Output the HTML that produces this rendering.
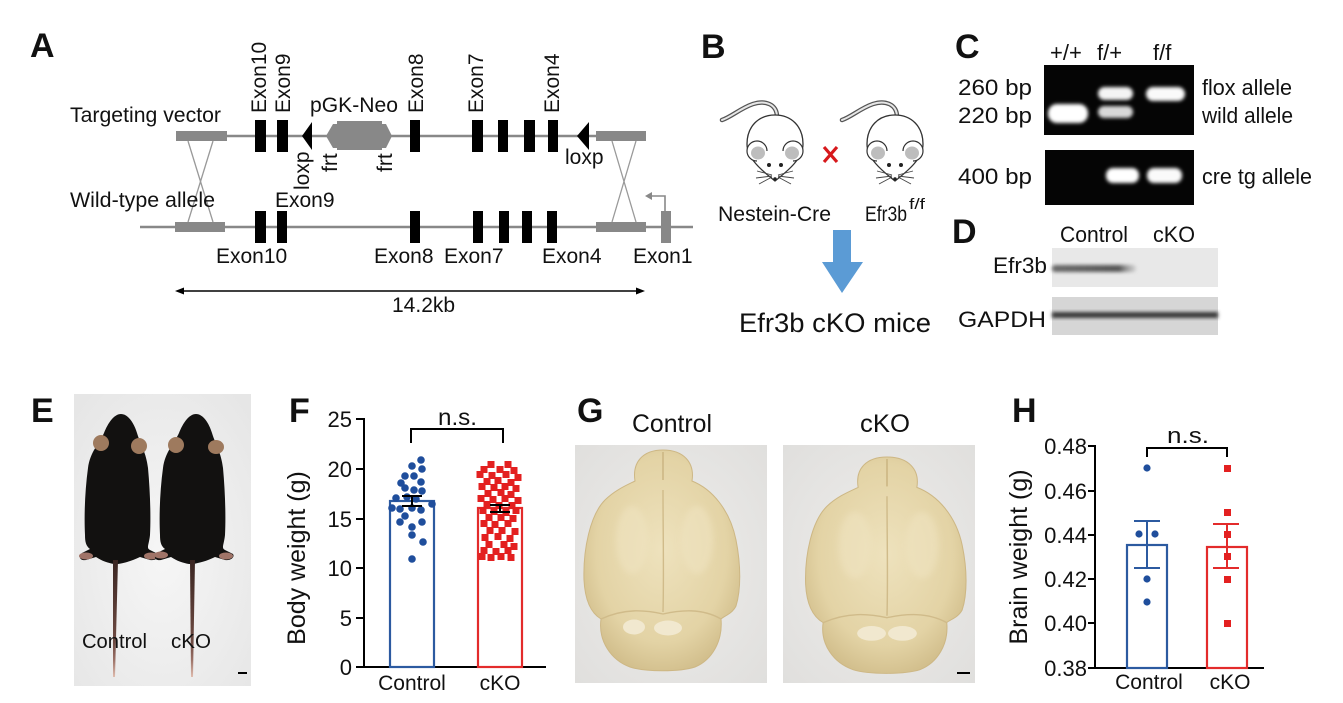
<!DOCTYPE html>
<html><head><meta charset="utf-8"><style>
html,body{margin:0;padding:0;background:#fff;}
svg{display:block;}
text{font-family:"Liberation Sans",Arial,sans-serif;fill:#111;}
.b{font-weight:bold;}
</style></head><body>
<svg width="1343" height="703" viewBox="0 0 1343 703" xmlns="http://www.w3.org/2000/svg">
<defs>
<filter id="blur" x="-30%" y="-50%" width="160%" height="200%"><feGaussianBlur stdDeviation="1.8"/></filter>
<filter id="blur2" x="-30%" y="-30%" width="160%" height="160%"><feGaussianBlur stdDeviation="3"/></filter>
<radialGradient id="photoE" cx="50%" cy="55%" r="70%"><stop offset="0" stop-color="#f6f6f6"/><stop offset="1" stop-color="#e6e6e6"/></radialGradient>
<radialGradient id="photoG" cx="50%" cy="50%" r="70%"><stop offset="0" stop-color="#eeedeb"/><stop offset="1" stop-color="#e0dfdd"/></radialGradient>
<radialGradient id="brainF" cx="50%" cy="45%" r="60%"><stop offset="0" stop-color="#eee2bd"/><stop offset="0.7" stop-color="#e3d3a5"/><stop offset="1" stop-color="#cfbb88"/></radialGradient>
<linearGradient id="tail" x1="0" y1="0" x2="0" y2="1"><stop offset="0" stop-color="#3a2622"/><stop offset="0.7" stop-color="#6e4a42"/><stop offset="0.85" stop-color="#9a7066"/><stop offset="1" stop-color="#e0bcae"/></linearGradient>
<linearGradient id="efrband" x1="0" y1="0" x2="1" y2="0"><stop offset="0" stop-color="#6a6a6a"/><stop offset="0.8" stop-color="#555"/><stop offset="1" stop-color="#9a9a9a" stop-opacity="0.3"/></linearGradient>
</defs>

<!-- ================= Panel A ================= -->
<text class="b" x="30" y="57" font-size="34">A</text>
<text x="70" y="122" font-size="21" textLength="151" lengthAdjust="spacingAndGlyphs">Targeting vector</text>
<line x1="176" y1="136" x2="646" y2="136" stroke="#888" stroke-width="2.5"/>
<rect x="176" y="131" width="51" height="10" fill="#888"/>
<rect x="596" y="131" width="50" height="10" fill="#888"/>
<g fill="#000">
<rect x="255" y="120" width="11" height="32"/>
<rect x="277" y="120" width="11" height="32"/>
<rect x="410" y="120" width="10" height="32"/>
<rect x="472" y="120" width="11" height="32"/>
<rect x="498" y="120" width="10" height="32"/>
<rect x="524" y="120" width="11" height="32"/>
<rect x="548" y="120" width="10" height="32"/>
<polygon points="302,136 312,122 312,150"/>
<polygon points="577,136 589,122 589,150"/>
</g>
<polygon points="326,136 333,124 337,124 337,148 333,148" fill="#888"/>
<rect x="337" y="121" width="45" height="29" fill="#888"/>
<polygon points="392,136 386,124 382,124 382,148 386,148" fill="#888"/>
<text x="310" y="112" font-size="21" textLength="88" lengthAdjust="spacingAndGlyphs">pGK-Neo</text>
<g font-size="21">
<text transform="translate(266,113) rotate(-90)">Exon10</text>
<text transform="translate(290,113) rotate(-90)">Exon9</text>
<text transform="translate(423,113) rotate(-90)">Exon8</text>
<text transform="translate(483,113) rotate(-90)">Exon7</text>
<text transform="translate(559,113) rotate(-90)">Exon4</text>
<text transform="translate(309,190) rotate(-90)">loxp</text>
<text transform="translate(337,172) rotate(-90)">frt</text>
<text transform="translate(392,172) rotate(-90)">frt</text>
<text x="565" y="164">loxp</text>
</g>
<g stroke="#999" stroke-width="1.3">
<line x1="188" y1="141" x2="213" y2="222"/><line x1="213" y1="141" x2="188" y2="222"/>
<line x1="612" y1="141" x2="636" y2="222"/><line x1="636" y1="141" x2="612" y2="222"/>
</g>
<text x="70" y="207" font-size="21" textLength="145" lengthAdjust="spacingAndGlyphs">Wild-type allele</text>
<text x="275" y="207" font-size="21">Exon9</text>
<line x1="140" y1="227" x2="693" y2="227" stroke="#888" stroke-width="2.5"/>
<rect x="175" y="222" width="50" height="10" fill="#888"/>
<rect x="596" y="222" width="50" height="10" fill="#888"/>
<g fill="#000">
<rect x="255" y="211" width="11" height="32"/>
<rect x="277" y="211" width="10" height="32"/>
<rect x="410" y="211" width="10" height="32"/>
<rect x="473" y="211" width="10" height="32"/>
<rect x="499" y="211" width="10" height="32"/>
<rect x="522" y="211" width="10" height="32"/>
<rect x="547" y="211" width="10" height="32"/>
</g>
<rect x="661" y="211" width="10" height="32" fill="#888"/>
<polyline points="665,211 665,196 651,196" fill="none" stroke="#888" stroke-width="1.6"/>
<polygon points="645,196 652,192 652,200" fill="#888"/>
<g font-size="21">
<text x="216" y="263">Exon10</text>
<text x="374" y="263">Exon8</text>
<text x="444" y="263">Exon7</text>
<text x="542" y="263">Exon4</text>
<text x="633" y="263">Exon1</text>
</g>
<line x1="180" y1="291" x2="640" y2="291" stroke="#000" stroke-width="1.6"/>
<polygon points="175,291 184,287.5 184,294.5" fill="#000"/>
<polygon points="645,291 636,287.5 636,294.5" fill="#000"/>
<text x="392" y="312" font-size="21">14.2kb</text>

<!-- ================= Panel B ================= -->
<text class="b" x="701" y="58" font-size="34">B</text>
<g transform="translate(775,148)">
<path d="M2,-31 C2,-44 -10,-48 -22,-44 C-34,-40 -44,-31 -53,-28" fill="none" stroke="#555" stroke-width="4.5" stroke-linecap="round"/>
<path d="M2,-31 C2,-44 -10,-48 -22,-44 C-34,-40 -44,-31 -53,-28" fill="none" stroke="#e6e6e6" stroke-width="2" stroke-linecap="round"/>
<path d="M0,-33 C17,-33 28,-21 28,-4 C28,10 14,22 0,33 C-14,22 -28,10 -28,-4 C-28,-21 -17,-33 0,-33 Z" fill="#fff" stroke="#333" stroke-width="1.3"/>
<path d="M-8,3 A10,10 0 1 0 -18,13" fill="#fff" stroke="#333" stroke-width="1.2"/>
<ellipse cx="-17" cy="5" rx="7" ry="6.5" fill="#bdbdbd"/>
<path d="M8,3 A10,10 0 1 1 18,13" fill="#fff" stroke="#333" stroke-width="1.2"/>
<ellipse cx="17" cy="5" rx="7" ry="6.5" fill="#bdbdbd"/>
<circle cx="-6" cy="17" r="2" fill="#222"/><circle cx="6" cy="17" r="2" fill="#222"/>
<circle cx="0" cy="31" r="1.8" fill="#222"/>
<g stroke="#444" stroke-width="0.9" fill="none">
<path d="M-3,27 L-18,23 M-3,28 L-19,30 M-3,29 L-16,36 M3,27 L18,23 M3,28 L19,30 M3,29 L16,36"/>
</g>
</g>
<g transform="translate(895,148)">
<path d="M2,-31 C2,-44 -10,-48 -22,-44 C-34,-40 -44,-31 -53,-28" fill="none" stroke="#555" stroke-width="4.5" stroke-linecap="round"/>
<path d="M2,-31 C2,-44 -10,-48 -22,-44 C-34,-40 -44,-31 -53,-28" fill="none" stroke="#e6e6e6" stroke-width="2" stroke-linecap="round"/>
<path d="M0,-33 C17,-33 28,-21 28,-4 C28,10 14,22 0,33 C-14,22 -28,10 -28,-4 C-28,-21 -17,-33 0,-33 Z" fill="#fff" stroke="#333" stroke-width="1.3"/>
<path d="M-8,3 A10,10 0 1 0 -18,13" fill="#fff" stroke="#333" stroke-width="1.2"/>
<ellipse cx="-17" cy="5" rx="7" ry="6.5" fill="#bdbdbd"/>
<path d="M8,3 A10,10 0 1 1 18,13" fill="#fff" stroke="#333" stroke-width="1.2"/>
<ellipse cx="17" cy="5" rx="7" ry="6.5" fill="#bdbdbd"/>
<circle cx="-6" cy="17" r="2" fill="#222"/><circle cx="6" cy="17" r="2" fill="#222"/>
<circle cx="0" cy="31" r="1.8" fill="#222"/>
<g stroke="#444" stroke-width="0.9" fill="none">
<path d="M-3,27 L-18,23 M-3,28 L-19,30 M-3,29 L-16,36 M3,27 L18,23 M3,28 L19,30 M3,29 L16,36"/>
</g>
</g>
<g stroke="#d7191c" stroke-width="3.2" stroke-linecap="butt">
<line x1="824" y1="147" x2="837" y2="162"/><line x1="837" y1="147" x2="824" y2="162"/>
</g>
<text x="718" y="221" font-size="21" textLength="113" lengthAdjust="spacingAndGlyphs">Nestein-Cre</text>
<text x="865" y="221" font-size="21" textLength="42" lengthAdjust="spacingAndGlyphs">Efr3b</text>
<text x="909" y="209" font-size="15" textLength="16" lengthAdjust="spacingAndGlyphs">f/f</text>
<polygon points="833,230 851,230 851,262 863,262 842,293 822,262 833,262" fill="#5b9bd5"/>
<text x="739" y="332" font-size="27" textLength="192" lengthAdjust="spacingAndGlyphs">Efr3b cKO mice</text>

<!-- ================= Panel C ================= -->
<text class="b" x="955" y="58" font-size="34">C</text>
<g font-size="22">
<text x="1050" y="60">+/+</text>
<text x="1097" y="60">f/+</text>
<text x="1153" y="60">f/f</text>
</g>
<rect x="1044" y="65" width="150" height="70" fill="#050505"/>
<g filter="url(#blur)">
<rect x="1048" y="104" width="40" height="19" rx="9" fill="#fff"/>
<rect x="1098" y="87" width="35" height="13" rx="6.5" fill="#f4f4f4"/>
<rect x="1098" y="106" width="35" height="12" rx="6" fill="#d8d8d8"/>
<rect x="1146" y="87" width="39" height="14" rx="7" fill="#fafafa"/>
</g>
<rect x="1045" y="150" width="149" height="55" fill="#050505"/>
<g filter="url(#blur)">
<rect x="1106" y="168" width="33" height="15" rx="7" fill="#fff"/>
<rect x="1147" y="168" width="35" height="15" rx="7" fill="#fafafa"/>
</g>
<g font-size="22">
<text x="958" y="95" textLength="74" lengthAdjust="spacingAndGlyphs">260 bp</text>
<text x="958" y="123" textLength="74" lengthAdjust="spacingAndGlyphs">220 bp</text>
<text x="958" y="184" textLength="74" lengthAdjust="spacingAndGlyphs">400 bp</text>
<text x="1202" y="95" textLength="90" lengthAdjust="spacingAndGlyphs">flox allele</text>
<text x="1202" y="123" textLength="91" lengthAdjust="spacingAndGlyphs">wild allele</text>
<text x="1202" y="184" textLength="110" lengthAdjust="spacingAndGlyphs">cre tg allele</text>
</g>

<!-- ================= Panel D ================= -->
<text class="b" x="952" y="243" font-size="34">D</text>
<text x="1060" y="242" font-size="22" textLength="68" lengthAdjust="spacingAndGlyphs">Control</text>
<text x="1153" y="242" font-size="22" textLength="42" lengthAdjust="spacingAndGlyphs">cKO</text>
<rect x="1052" y="248" width="166" height="39" fill="#e8e8e8"/>
<rect x="1052" y="265" width="84" height="7" rx="3" fill="url(#efrband)" filter="url(#blur)"/>
<rect x="1052" y="297" width="166" height="38" fill="#d6d6d6"/>
<rect x="1052" y="312" width="166" height="6" fill="#3a3a3a" filter="url(#blur)"/>
<text x="993" y="273" font-size="22" textLength="54" lengthAdjust="spacingAndGlyphs">Efr3b</text>
<text x="958" y="327" font-size="22" textLength="88" lengthAdjust="spacingAndGlyphs">GAPDH</text>

<!-- ================= Panel E ================= -->
<text class="b" x="31" y="422" font-size="34">E</text>
<rect x="74" y="394" width="177" height="292" fill="url(#photoE)"/>
<g>
<path d="M121,414 C128,414 134,423 137,433 C141,446 146,452 148,468 C150,490 151,515 150,535 C149,545 146,548 150,550 L158,554 C160,557 156,561 150,560 L140,557 C132,561 124,563 118,564 L114,564 C108,563 102,561 96,557 L86,560 C80,561 78,557 82,553 L90,549 C86,546 85,542 85,535 C84,515 85,490 88,468 C90,452 99,444 104,433 C108,423 114,414 121,414 Z" fill="#121110"/>
<ellipse cx="101" cy="443" rx="8" ry="8" fill="#9e7a5e"/>
<ellipse cx="139" cy="446" rx="8" ry="8" fill="#9e7a5e"/>
<ellipse cx="86" cy="556" rx="7" ry="3.5" fill="#a07468"/>
<ellipse cx="151" cy="556" rx="7" ry="3.5" fill="#a07468"/>
<path d="M113,560 L118,560 L115,677 L113,677 Z" fill="url(#tail)"/>
</g>
<g transform="translate(75,0)">
<path d="M121,414 C128,414 134,423 137,433 C141,446 146,452 148,468 C150,490 151,515 150,535 C149,545 146,548 150,550 L158,554 C160,557 156,561 150,560 L140,557 C132,561 124,563 118,564 L114,564 C108,563 102,561 96,557 L86,560 C80,561 78,557 82,553 L90,549 C86,546 85,542 85,535 C84,515 85,490 88,468 C90,452 99,444 104,433 C108,423 114,414 121,414 Z" fill="#121110"/>
<ellipse cx="101" cy="445" rx="8" ry="8" fill="#9e7a5e"/>
<ellipse cx="141" cy="447" rx="8" ry="7" fill="#9e7a5e"/>
<ellipse cx="86" cy="555" rx="7" ry="3.5" fill="#a07468"/>
<ellipse cx="151" cy="556" rx="7" ry="3.5" fill="#a07468"/>
<path d="M115,560 L120,560 L118,677 L116,677 Z" fill="url(#tail)"/>
</g>
<text x="82" y="648" font-size="20" textLength="65" lengthAdjust="spacingAndGlyphs">Control</text>
<text x="171" y="648" font-size="20" textLength="40" lengthAdjust="spacingAndGlyphs">cKO</text>
<line x1="238" y1="673" x2="247" y2="673" stroke="#000" stroke-width="2"/>

<!-- ================= Panel F ================= -->
<text class="b" x="289" y="422" font-size="34">F</text>
<g stroke="#000" stroke-width="2" fill="none">
<line x1="364" y1="418" x2="364" y2="668"/>
<line x1="363" y1="667" x2="546" y2="667"/>
<line x1="356" y1="419" x2="364" y2="419"/>
<line x1="356" y1="469" x2="364" y2="469"/>
<line x1="356" y1="519" x2="364" y2="519"/>
<line x1="356" y1="568" x2="364" y2="568"/>
<line x1="356" y1="618" x2="364" y2="618"/>
<line x1="356" y1="667" x2="364" y2="667"/>
</g>
<g font-size="22" text-anchor="end">
<text x="352" y="427">25</text>
<text x="352" y="477">20</text>
<text x="352" y="527">15</text>
<text x="352" y="576">10</text>
<text x="352" y="626">5</text>
<text x="352" y="675">0</text>
</g>
<text transform="translate(305,558) rotate(-90)" font-size="25" text-anchor="middle">Body weight (g)</text>
<rect x="390" y="501" width="44" height="166" fill="none" stroke="#2c5aa0" stroke-width="2.2"/>
<rect x="478" y="508" width="44" height="159" fill="none" stroke="#e32b2b" stroke-width="2.2"/>
<g fill="#1f4e9c">
<circle cx="421" cy="460" r="3.8"/><circle cx="412" cy="466" r="3.8"/><circle cx="422" cy="469" r="3.8"/>
<circle cx="405" cy="476" r="3.8"/><circle cx="414" cy="476" r="3.8"/><circle cx="401" cy="483" r="3.8"/>
<circle cx="421" cy="482" r="3.8"/><circle cx="405" cy="488" r="3.8"/><circle cx="414" cy="490" r="3.8"/>
<circle cx="422" cy="491" r="3.8"/><circle cx="396" cy="498" r="3.8"/><circle cx="407" cy="497" r="3.8"/>
<circle cx="416" cy="499" r="3.8"/><circle cx="432" cy="504" r="3.8"/><circle cx="392" cy="508" r="3.8"/>
<circle cx="400" cy="509" r="3.8"/><circle cx="412" cy="508" r="3.8"/><circle cx="421" cy="510" r="3.8"/>
<circle cx="405" cy="516" r="3.8"/><circle cx="400" cy="522" r="3.8"/><circle cx="422" cy="522" r="3.8"/>
<circle cx="412" cy="527" r="3.8"/><circle cx="412" cy="535" r="3.8"/><circle cx="423" cy="542" r="3.8"/>
<circle cx="412" cy="559" r="3.8"/>
</g>
<g fill="#e32020">
<rect x="487.5" y="461" width="7" height="7"/><rect x="504.5" y="461" width="7" height="7"/>
<rect x="480.5" y="466" width="7" height="7"/><rect x="496.5" y="466" width="7" height="7"/><rect x="510.5" y="467" width="7" height="7"/>
<rect x="476.5" y="471" width="7" height="7"/><rect x="488.5" y="472" width="7" height="7"/><rect x="502.5" y="471" width="7" height="7"/><rect x="514.5" y="474" width="7" height="7"/>
<rect x="483.5" y="478" width="7" height="7"/><rect x="494.5" y="477" width="7" height="7"/><rect x="507.5" y="479" width="7" height="7"/>
<rect x="478.5" y="483" width="7" height="7"/><rect x="490.5" y="484" width="7" height="7"/><rect x="501.5" y="483" width="7" height="7"/><rect x="512.5" y="485" width="7" height="7"/>
<rect x="484.5" y="490" width="7" height="7"/><rect x="497.5" y="489" width="7" height="7"/><rect x="507.5" y="491" width="7" height="7"/>
<rect x="477.5" y="495" width="7" height="7"/><rect x="489.5" y="496" width="7" height="7"/><rect x="501.5" y="495" width="7" height="7"/><rect x="514.5" y="497" width="7" height="7"/>
<rect x="483.5" y="501" width="7" height="7"/><rect x="495.5" y="502" width="7" height="7"/><rect x="508.5" y="502" width="7" height="7"/>
<rect x="479.5" y="507" width="7" height="7"/><rect x="490.5" y="508" width="7" height="7"/><rect x="502.5" y="509" width="7" height="7"/><rect x="512.5" y="507" width="7" height="7"/>
<rect x="485.5" y="514" width="7" height="7"/><rect x="497.5" y="514" width="7" height="7"/><rect x="509.5" y="515" width="7" height="7"/>
<rect x="480.5" y="520" width="7" height="7"/><rect x="491.5" y="521" width="7" height="7"/><rect x="504.5" y="520" width="7" height="7"/>
<rect x="486.5" y="527" width="7" height="7"/><rect x="498.5" y="527" width="7" height="7"/><rect x="511.5" y="528" width="7" height="7"/>
<rect x="481.5" y="534" width="7" height="7"/><rect x="494.5" y="533" width="7" height="7"/><rect x="506.5" y="535" width="7" height="7"/>
<rect x="485.5" y="541" width="7" height="7"/><rect x="500.5" y="541" width="7" height="7"/><rect x="510.5" y="543" width="7" height="7"/>
<rect x="480.5" y="547" width="7" height="7"/><rect x="492.5" y="548" width="7" height="7"/><rect x="504.5" y="547" width="7" height="7"/>
<rect x="478.5" y="553" width="7" height="7"/><rect x="487.5" y="554" width="7" height="7"/><rect x="497.5" y="553" width="7" height="7"/><rect x="507.5" y="554" width="7" height="7"/>
</g>
<g stroke="#000" stroke-width="2" fill="none">
<line x1="412" y1="496" x2="412" y2="506"/><line x1="402" y1="496" x2="422" y2="496"/><line x1="402" y1="506" x2="422" y2="506"/>
<line x1="500" y1="505" x2="500" y2="512"/><line x1="490" y1="505" x2="510" y2="505"/><line x1="490" y1="512" x2="510" y2="512"/>
<polyline points="411,443 411,429 503,429 503,443"/>
</g>
<text x="438" y="425" font-size="23" textLength="39" lengthAdjust="spacingAndGlyphs">n.s.</text>
<text x="412" y="690" font-size="21" text-anchor="middle">Control</text>
<text x="500" y="690" font-size="21" text-anchor="middle">cKO</text>

<!-- ================= Panel G ================= -->
<text class="b" x="577" y="422" font-size="34">G</text>
<text x="632" y="432" font-size="25" textLength="80" lengthAdjust="spacingAndGlyphs">Control</text>
<text x="860" y="432" font-size="25" textLength="50" lengthAdjust="spacingAndGlyphs">cKO</text>
<rect x="575" y="445" width="192" height="238" fill="url(#photoG)"/>
<rect x="783" y="445" width="192" height="238" fill="url(#photoG)"/>
<g>
<path d="M635,481 C632,462 643,450 663,450 C683,450 695,462 692,481 C712,489 730,510 736,540 C741,565 741,590 736,606 C732,614 724,616 721,619 C723,641 712,660 695,667 C680,672 645,672 630,667 C611,660 598,641 601,619 C591,613 585,600 584,580 C583,550 590,515 605,500 C615,490 627,485 635,481 Z" fill="url(#brainF)" stroke="#cdb784" stroke-width="1"/>
<path d="M663,452 L663,480" stroke="#cbb582" stroke-width="1.5"/>
<path d="M663,490 C663,530 664,575 663,612" stroke="#d0bb8a" stroke-width="1.4" fill="none"/>
<path d="M601,619 C625,608 645,610 663,614 C681,610 702,608 721,619" stroke="#d0bb8a" stroke-width="1.4" fill="none"/>
<ellipse cx="634" cy="627" rx="11" ry="7.5" fill="#f1e8cf"/>
<ellipse cx="668" cy="628" rx="14" ry="7.5" fill="#f1e8cf"/>
<ellipse cx="632" cy="540" rx="16" ry="34" fill="#efe3c0" opacity="0.6" filter="url(#blur2)"/>
<ellipse cx="697" cy="540" rx="16" ry="34" fill="#efe3c0" opacity="0.6" filter="url(#blur2)"/>
</g>
<g transform="translate(887,457) scale(1.03,0.98) translate(-663,-450)">
<path d="M635,481 C632,462 643,450 663,450 C683,450 695,462 692,481 C712,489 730,510 736,540 C741,565 741,590 736,606 C732,614 724,616 721,619 C723,641 712,660 695,667 C680,672 645,672 630,667 C611,660 598,641 601,619 C591,613 585,600 584,580 C583,550 590,515 605,500 C615,490 627,485 635,481 Z" fill="url(#brainF)" stroke="#cdb784" stroke-width="1"/>
<path d="M663,452 L663,480" stroke="#cbb582" stroke-width="1.5"/>
<path d="M663,490 C663,530 664,575 663,612" stroke="#d0bb8a" stroke-width="1.4" fill="none"/>
<path d="M601,619 C625,608 645,610 663,614 C681,610 702,608 721,619" stroke="#d0bb8a" stroke-width="1.4" fill="none"/>
<ellipse cx="648" cy="630" rx="14" ry="7.5" fill="#f1e8cf"/>
<ellipse cx="678" cy="630" rx="14" ry="7.5" fill="#f1e8cf"/>
<ellipse cx="632" cy="540" rx="16" ry="34" fill="#efe3c0" opacity="0.6" filter="url(#blur2)"/>
<ellipse cx="697" cy="540" rx="16" ry="34" fill="#efe3c0" opacity="0.6" filter="url(#blur2)"/>
</g>
<line x1="957" y1="673" x2="970" y2="673" stroke="#000" stroke-width="2"/>

<!-- ================= Panel H ================= -->
<text class="b" x="1012" y="422" font-size="34">H</text>
<g stroke="#000" stroke-width="2" fill="none">
<line x1="1095" y1="445" x2="1095" y2="669"/>
<line x1="1094" y1="668" x2="1264" y2="668"/>
<line x1="1088" y1="446" x2="1095" y2="446"/>
<line x1="1088" y1="491" x2="1095" y2="491"/>
<line x1="1088" y1="535" x2="1095" y2="535"/>
<line x1="1088" y1="579" x2="1095" y2="579"/>
<line x1="1088" y1="623" x2="1095" y2="623"/>
<line x1="1088" y1="668" x2="1095" y2="668"/>
</g>
<g font-size="22" text-anchor="end">
<text x="1087" y="454">0.48</text>
<text x="1087" y="499">0.46</text>
<text x="1087" y="543">0.44</text>
<text x="1087" y="587">0.42</text>
<text x="1087" y="631">0.40</text>
<text x="1087" y="676">0.38</text>
</g>
<text transform="translate(1027,557) rotate(-90)" font-size="25" text-anchor="middle">Brain weight (g)</text>
<rect x="1127" y="545" width="40" height="123" fill="none" stroke="#2c5aa0" stroke-width="2.2"/>
<rect x="1207" y="547" width="40" height="121" fill="none" stroke="#e32b2b" stroke-width="2.2"/>
<g stroke="#2c5aa0" stroke-width="2" fill="none">
<line x1="1147" y1="521" x2="1147" y2="568"/><line x1="1134" y1="521" x2="1160" y2="521"/><line x1="1134" y1="568" x2="1160" y2="568"/>
</g>
<g stroke="#e32b2b" stroke-width="2" fill="none">
<line x1="1227" y1="524" x2="1227" y2="568"/><line x1="1213" y1="524" x2="1239" y2="524"/><line x1="1213" y1="568" x2="1239" y2="568"/>
</g>
<g fill="#1f4e9c">
<circle cx="1147" cy="468" r="3.6"/><circle cx="1139" cy="534" r="3.6"/><circle cx="1155" cy="534" r="3.6"/>
<circle cx="1147" cy="579" r="3.6"/><circle cx="1147" cy="602" r="3.6"/>
</g>
<g fill="#e32020">
<rect x="1224" y="465" width="7" height="7"/><rect x="1224" y="509" width="7" height="7"/><rect x="1224" y="531" width="7" height="7"/>
<rect x="1224" y="553" width="7" height="7"/><rect x="1224" y="576" width="7" height="7"/><rect x="1224" y="620" width="7" height="7"/>
</g>
<polyline points="1147,457 1147,448 1227,448 1227,457" fill="none" stroke="#000" stroke-width="2"/>
<text x="1167" y="443" font-size="22" textLength="42" lengthAdjust="spacingAndGlyphs">n.s.</text>
<text x="1149" y="689" font-size="21" text-anchor="middle">Control</text>
<text x="1230" y="689" font-size="21" text-anchor="middle">cKO</text>
</svg>
</body></html>
